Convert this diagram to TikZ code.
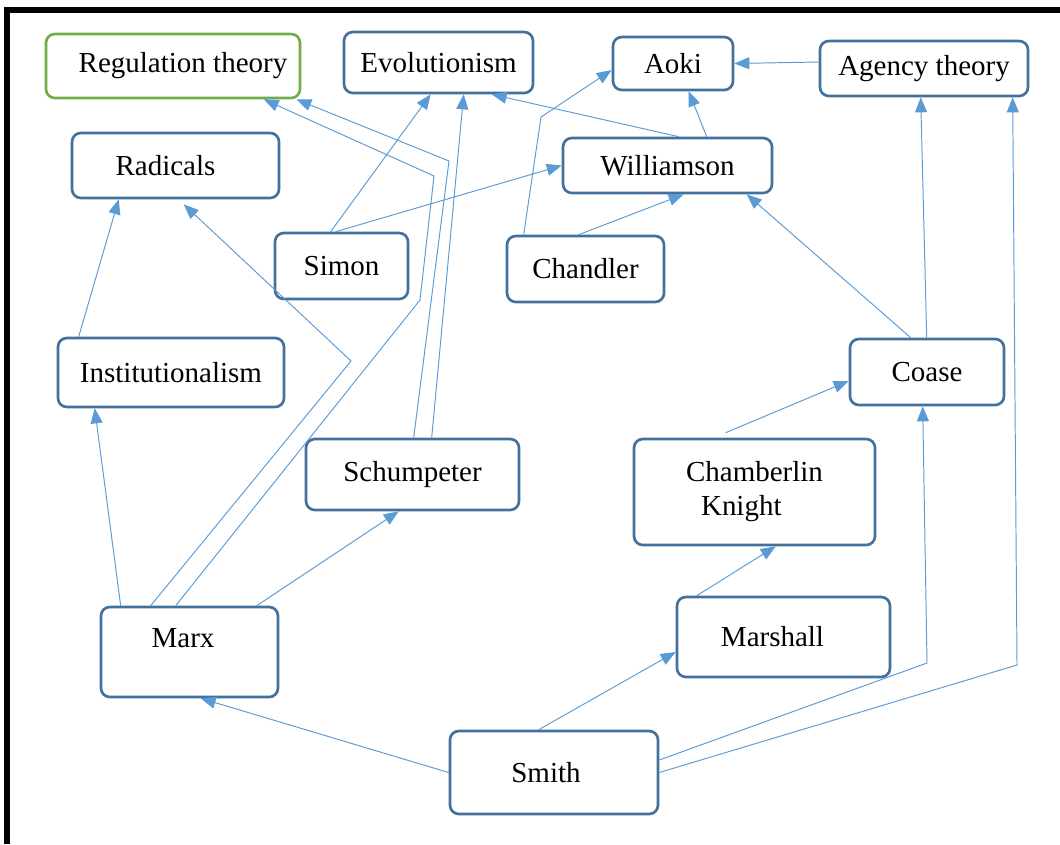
\documentclass[tikz,border=0pt]{standalone}
\usepackage{fontspec}
\setmainfont{Liberation Serif}
\usetikzlibrary{arrows.meta,positioning}
\definecolor{cbox}{HTML}{41719C}
\definecolor{clink}{HTML}{5B9BD5}
\definecolor{cgreen}{HTML}{70AD47}
\tikzset{
  box/.style={draw=cbox, line width=1.5pt, rounded corners=5pt, fill=white, align=center, inner sep=2pt, font=\fontsize{16.5}{19.4}\selectfont},
  grnbox/.style={box, draw=cgreen},
  pre/.style={-{Triangle[length=3mm, width=2.4mm]}, draw=clink, line width=0.55pt},
}
\begin{document}
\begin{tikzpicture}[x=1cm,y=1cm]
\useasboundingbox (0,0) rectangle (21.2,-16.88);
\draw[line width=0.12cm] (0.14,-16.88) -- (0.14,-0.2) -- (21.2,-0.2);
% schools and authors
\node[grnbox, minimum width=5.08cm, minimum height=1.28cm] (reg) at (3.46,-1.32) {\hspace*{0.4cm}Regulation theory};
\node[box, minimum width=3.78cm, minimum height=1.22cm] (evo) at (8.77,-1.25) {Evolutionism};
\node[box, minimum width=2.4cm, minimum height=1.06cm] (aoki) at (13.46,-1.27) {Aoki};
\node[box, minimum width=4.16cm, minimum height=1.1cm] (agency) at (18.48,-1.37) {Agency theory};
\node[box, minimum width=4.14cm, minimum height=1.3cm] (rad) at (3.51,-3.31) {Radicals\hspace*{0.4cm}};
\node[box, minimum width=4.18cm, minimum height=1.1cm] (will) at (13.35,-3.31) {Williamson};
\node[box, minimum width=2.66cm, minimum height=1.32cm] (simon) at (6.83,-5.32) {Simon};
\node[box, minimum width=3.14cm, minimum height=1.32cm] (chand) at (11.71,-5.38) {Chandler};
\node[box, minimum width=4.52cm, minimum height=1.38cm] (inst) at (3.42,-7.45) {Institutionalism};
\node[box, minimum width=3.08cm, minimum height=1.32cm] (coase) at (18.54,-7.44) {Coase};
\node[box, minimum width=4.26cm, minimum height=1.42cm] (schum) at (8.25,-9.49) {Schumpeter};
\node[box, align=left, minimum width=4.82cm, minimum height=2.12cm] (chamb) at (15.09,-9.84) {Chamberlin\\\hspace*{0.3cm}Knight};
\node[box, minimum width=3.54cm, minimum height=1.8cm, text depth=0.56cm] (marx) at (3.79,-13.04) {Marx\hspace*{0.26cm}};
\node[box, minimum width=4.26cm, minimum height=1.6cm] (marsh) at (15.67,-12.74) {Marshall\hspace*{0.44cm}};
\node[box, minimum width=4.16cm, minimum height=1.66cm] (smith) at (11.08,-15.45) {Smith\hspace*{0.32cm}};
% bends
\coordinate (kr) at (7.02,-7.22);
\coordinate (ka1) at (8.4,-6.0);
\coordinate (ka2) at (8.68,-3.52);
\coordinate (kb) at (8.98,-3.22);
\coordinate (kc) at (10.82,-2.34);
\coordinate (ks1) at (18.54,-13.26);
\coordinate (ks2) at (20.34,-13.3);
% left side
\draw[pre] ([xshift=0.44cm]inst.north west) -- ([xshift=0.96cm]rad.south west);
\draw[pre] ([xshift=0.42cm]marx.north west) -- ([xshift=0.76cm]inst.south west);
\draw[pre] ([xshift=1.02cm]marx.north west) -- (kr) -- ([xshift=2.26cm,yshift=-0.1cm]rad.south west);
\draw[pre] ([xshift=1.52cm]marx.north west) -- (ka1) -- (ka2) -- ([xshift=4.38cm]reg.south west);
\draw[pre] ([xshift=3.14cm]marx.north west) -- ([xshift=1.88cm]schum.south west);
\draw[pre] ([xshift=2.18cm]schum.north west) -- (kb) -- ([xshift=-0.1cm]reg.south east);
\draw[pre] ([xshift=2.54cm]schum.north west) -- ([xshift=2.42cm]evo.south west);
% middle
\draw[pre] ([xshift=1.14cm]simon.north west) -- ([xshift=1.76cm]evo.south west);
\draw[pre] ([xshift=1.24cm]simon.north west) -- (will.west);
\draw[pre] ([xshift=0.36cm]chand.north west) -- (kc) -- ([yshift=-0.13cm]aoki.west);
\draw[pre] ([xshift=1.46cm]chand.north west) -- ([xshift=2.44cm]will.south west);
\draw[pre] ([xshift=2.34cm]will.north west) -- ([xshift=2.98cm]evo.south west);
\draw[pre] ([xshift=2.9cm]will.north west) -- ([xshift=1.54cm]aoki.south west);
\draw[pre] ([yshift=0.13cm]agency.west) -- (aoki.east);
% right side
\draw[pre] ([xshift=1.24cm]coase.north west) -- ([xshift=3.7cm]will.south west);
\draw[pre] ([xshift=1.56cm]coase.north west) -- ([xshift=2.04cm]agency.south west);
\draw[pre] ([xshift=1.86cm,yshift=0.1cm]chamb.north west) -- ([yshift=-0.18cm]coase.west);
\draw[pre] ([xshift=0.42cm]marsh.north west) -- ([xshift=2.86cm]chamb.south west);
% Smith
\draw[pre] ([xshift=1.8cm]smith.north west) -- ([yshift=-0.3cm]marsh.west);
\draw[pre] (smith.west) -- ([xshift=2.02cm]marx.south west);
\draw[pre] ([yshift=0.25cm]smith.east) -- (ks1) -- ([xshift=1.48cm]coase.south west);
\draw[pre] (smith.east) -- (ks2) -- ([xshift=3.88cm]agency.south west);
\end{tikzpicture}
\end{document}
